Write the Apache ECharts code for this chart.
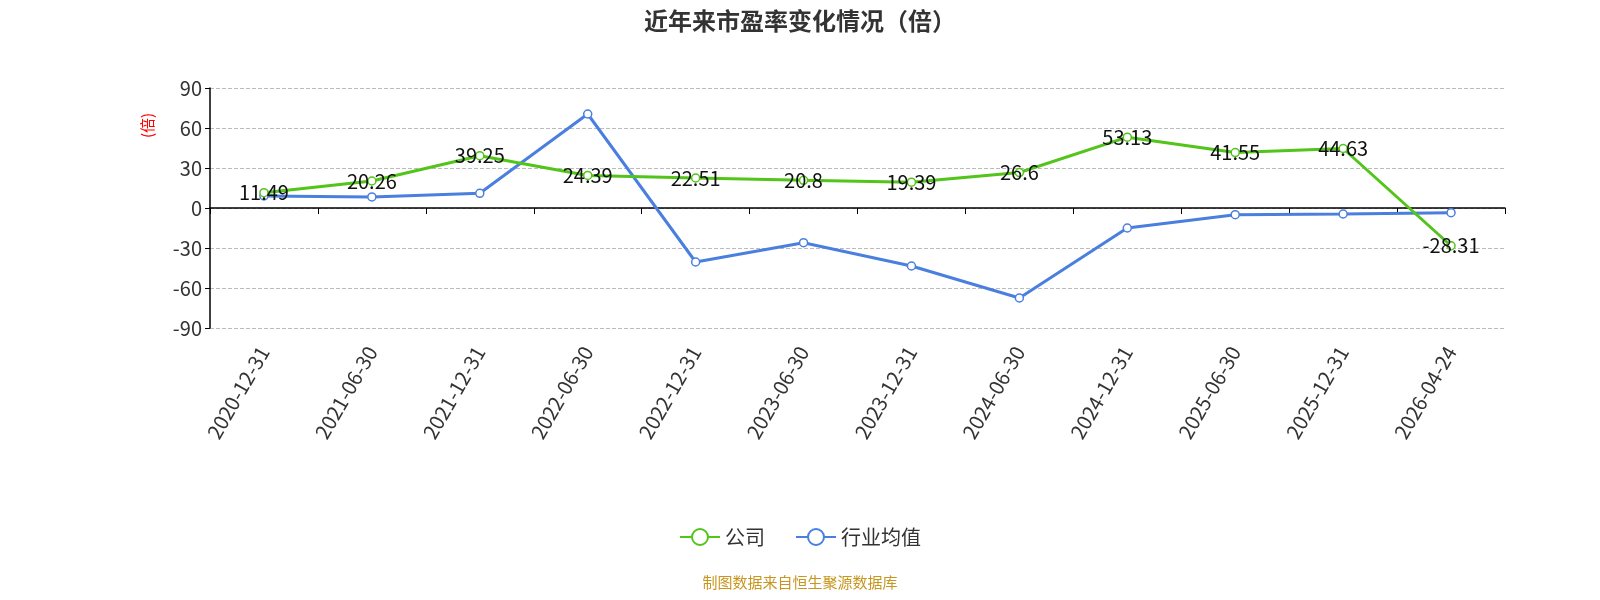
<!DOCTYPE html>
<html lang="zh">
<head>
<meta charset="utf-8">
<style>html,body{margin:0;padding:0;background:#fff;overflow:hidden}#chart{width:1600px;height:600px}</style>
<script src="https://cdn.jsdelivr.net/npm/echarts@6.0.0/dist/echarts.min.js"></script>
</head>
<body>
<div id="chart"></div>
<script>
var dates = ['2020-12-31','2021-06-30','2021-12-31','2022-06-30','2022-12-31','2023-06-30',
    '2023-12-31','2024-06-30','2024-12-31','2025-06-30','2025-12-31','2026-04-24'];
var companyPE = [11.49, 20.26, 39.25, 24.39, 22.51, 20.8, 19.39, 26.6, 53.13, 41.55, 44.63, -28.31];
var industryPE = [9, 8.3, 11, 70.5, -40.5, -26, -43.5, -67.5, -15, -5, -4.5, -3.5];

var font = '"Noto Sans CJK SC", "Noto Sans", sans-serif';
var chart = echarts.init(document.getElementById('chart'));
chart.setOption({
    animation: false,
    textStyle: { fontFamily: font },
    title: {
        text: '近年来市盈率变化情况（倍）', left: 'center', top: 4,
        textStyle: { fontSize: 24, fontWeight: 'bold', color: '#333', fontFamily: font }
    },
    legend: {
        bottom: 48, itemWidth: 40, itemHeight: 20, itemGap: 30,
        textStyle: { fontSize: 20, color: '#333' },
        data: ['公司', '行业均值']
    },
    graphic: [{
        type: 'text', left: 'center', bottom: 10,
        style: { text: '制图数据来自恒生聚源数据库', fill: '#c8961e', fontSize: 15, fontFamily: font }
    }, {
        type: 'text', x: 140, y: 138, rotation: Math.PI / 2,
        style: { text: '(倍)', fill: 'red', fontSize: 15, fontFamily: font }
    }],
    grid: { left: 210, right: 95, top: 88, bottom: 272, containLabel: false },
    xAxis: {
        type: 'category', data: dates,
        axisLine: { onZero: true, lineStyle: { color: '#000', width: 1.5 } },
        axisTick: { show: true, length: 6, lineStyle: { color: '#000' } },
        axisLabel: { rotate: 60, fontSize: 20, color: '#333', margin: 20 }
    },
    yAxis: {
        type: 'value', min: -90, max: 90, interval: 30,
        axisLine: { show: true, lineStyle: { color: '#000', width: 1.5 } },
        axisTick: { show: true, lineStyle: { color: '#000' } },
        axisLabel: { fontSize: 20, color: '#333' },
        splitLine: { lineStyle: { type: 'dashed', color: '#bbb' } }
    },
    series: [{
        name: '公司', type: 'line', data: companyPE,
        symbol: 'circle', symbolSize: 8,
        itemStyle: { color: '#fff', borderColor: '#52c41a', borderWidth: 1.5 },
        lineStyle: { width: 3, color: '#52c41a' },
        label: { show: true, position: 'inside', fontSize: 20, color: '#111' },
        z: 3
    }, {
        name: '行业均值', type: 'line', data: industryPE,
        symbol: 'circle', symbolSize: 8,
        itemStyle: { color: '#fff', borderColor: '#4a7fdf', borderWidth: 1.5 },
        lineStyle: { width: 3, color: '#4a7fdf' },
        z: 2
    }]
});
</script>
</body>
</html>
